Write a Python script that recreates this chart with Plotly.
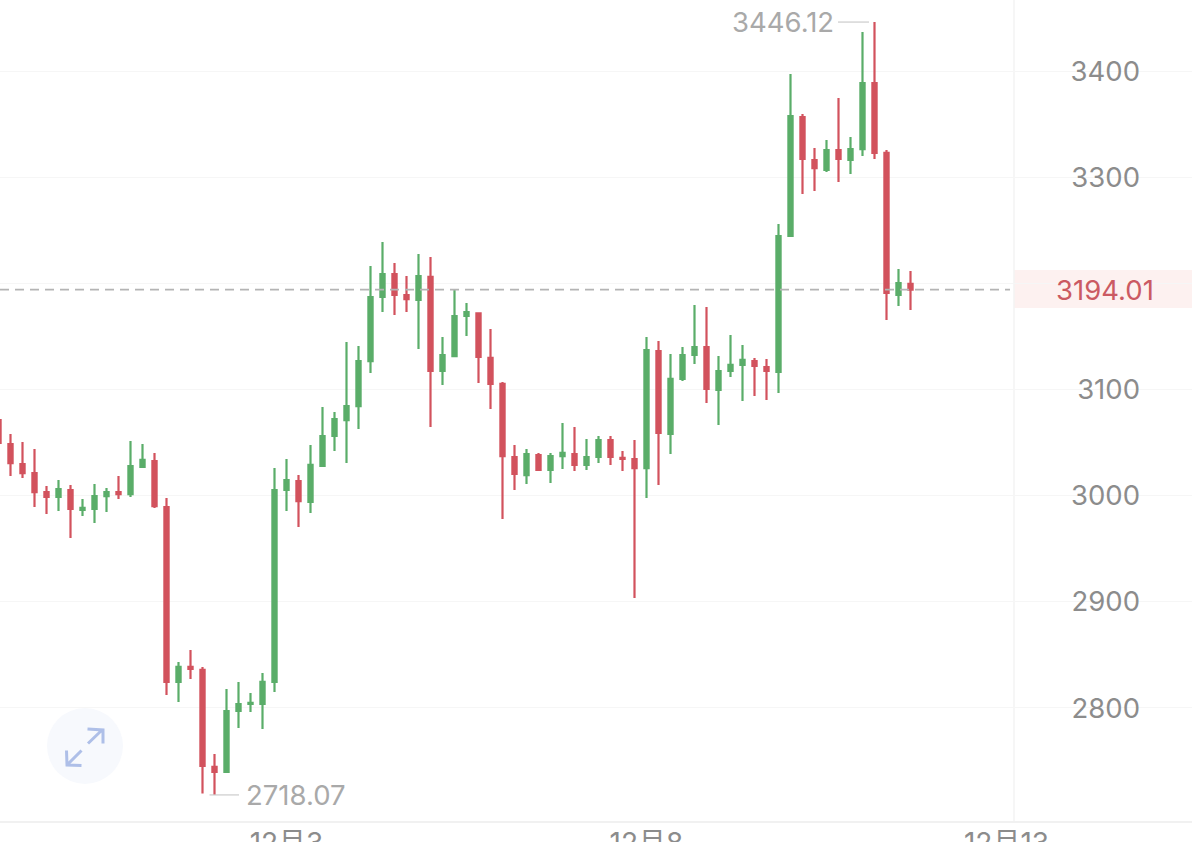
import pandas as pd
import plotly.graph_objects as go

start_time = "2025-11-29 00:00"
opens = [3071.2, 3048.6, 3029.8, 3021.3, 3003.4, 2998.7, 3005.3, 2986.5, 2987.4, 2999.6,
         3003.4, 3001.5, 3027.0, 3032.6, 2989.3, 2824.5, 2838.6, 2835.8, 2744.4, 2739.7,
         2797.1, 2803.7, 2803.7, 2824.5, 3005.3, 3013.8, 2994.0, 3027.9, 3056.2, 3071.2,
         3084.4, 3126.8, 3187.1, 3208.8, 3189.0, 3184.3, 3206.0, 3117.4, 3131.5, 3169.2,
         3171.6, 3129.7, 3105.2, 3036.4, 3019.4, 3038.3, 3024.2, 3037.3, 3039.2, 3028.9,
         3036.4, 3052.4, 3035.5, 3034.5, 3026.0, 3136.2, 3058.1, 3109.9, 3132.5, 3140.0,
         3099.5, 3117.4, 3123.1, 3126.8, 3121.2, 3116.5, 3244.6, 3356.7, 3316.2, 3306.8,
         3325.6, 3316.2, 3326.5, 3388.7, 3322.8, 3189.0, 3199.4]
highs = [3073.1, 3058.1, 3050.5, 3043.9, 3009.1, 3014.7, 3010.0, 2996.8, 3011.0, 3007.2,
         3018.5, 3051.5, 3048.6, 3040.2, 2997.8, 2843.3, 2854.6, 2838.6, 2756.6, 2817.9,
         2824.5, 2814.1, 2832.9, 3026.0, 3034.5, 3019.4, 3047.7, 3083.5, 3078.8, 3144.7,
         3141.0, 3216.3, 3238.9, 3219.2, 3206.9, 3227.6, 3224.8, 3149.4, 3193.7, 3181.5,
         3172.0, 3157.0, 3107.1, 3047.7, 3043.9, 3040.2, 3040.2, 3068.4, 3064.7, 3053.4,
         3056.2, 3056.2, 3042.1, 3052.4, 3149.4, 3145.7, 3133.4, 3140.0, 3179.6, 3177.7,
         3131.5, 3151.3, 3141.9, 3129.7, 3128.7, 3255.9, 3397.2, 3359.5, 3327.5, 3335.0,
         3374.6, 3337.8, 3436.8, 3446.12, 3325.6, 3213.5, 3211.6]
lows = [3047.7, 3018.5, 3016.6, 2989.3, 2982.7, 2985.5, 2960.1, 2980.8, 2974.2, 2984.6,
        2996.8, 2998.7, 3026.5, 2988.4, 2812.2, 2805.6, 2827.3, 2719.5, 2718.07, 2739.0,
        2781.1, 2796.2, 2780.2, 2815.0, 2985.5, 2970.4, 2983.6, 3027.5, 3042.1, 3030.7,
        3062.8, 3115.5, 3173.0, 3170.2, 3173.0, 3138.1, 3064.7, 3104.2, 3131.0, 3150.4,
        3106.1, 3081.6, 2978.0, 3005.3, 3011.0, 3023.2, 3011.9, 3025.1, 3023.2, 3024.2,
        3030.7, 3028.9, 3023.2, 2903.6, 2997.8, 3010.0, 3039.2, 3108.0, 3124.0, 3087.3,
        3066.6, 3111.8, 3089.2, 3093.9, 3090.1, 3096.7, 3244.0, 3284.1, 3287.0, 3304.9,
        3295.5, 3303.0, 3319.9, 3317.1, 3165.5, 3178.6, 3174.9]
closes = [3049.6, 3030.7, 3021.3, 3003.4, 2998.7, 3006.2, 2987.4, 2988.4, 2999.6, 3003.4,
          3001.5, 3027.9, 3033.6, 2990.2, 2824.5, 2838.6, 2836.7, 2745.3, 2739.7, 2797.1,
          2803.7, 2804.7, 2824.5, 3005.3, 3014.7, 2994.9, 3028.9, 3056.2, 3072.2, 3084.4,
          3126.8, 3187.1, 3208.8, 3189.0, 3185.2, 3206.9, 3117.4, 3132.5, 3169.2, 3173.0,
          3130.6, 3105.2, 3037.3, 3020.4, 3039.2, 3024.2, 3037.3, 3040.2, 3028.9, 3036.4,
          3052.4, 3036.4, 3034.5, 3026.0, 3137.2, 3059.0, 3109.9, 3132.5, 3140.0, 3100.5,
          3117.4, 3123.1, 3127.8, 3122.1, 3117.4, 3244.6, 3357.6, 3317.1, 3308.6, 3325.6,
          3317.1, 3326.5, 3388.7, 3322.8, 3190.9, 3200.3, 3194.01]
times = pd.date_range(start_time, periods=len(opens), freq="4h")

y_ticks = [2800, 2900, 3000, 3100, 3200, 3300, 3400]
y_labels = ["2800", "2900", "3000", "3100", "", "3300", "3400"]
x_ticks = ["2025-12-03", "2025-12-08", "2025-12-13"]
x_labels = ["12月3", "12月8", "12月13"]
last_price = 3194.01
max_price = 3446.12
min_price = 2718.07
max_time = times[highs.index(max_price)]
min_time = times[lows.index(min_price)]

GREEN = "#5aad69"
RED = "#d2525d"
FONT = "Inter"
W, H, PLOT_H = 1192, 842, 821


def px(x, y):
    return f"{x / W:.5f},{1 - y / PLOT_H:.5f}"


arrow_path = (
    f"M{px(88, 743.5)} L{px(101, 731)} "
    f"M{px(87.5, 729)} L{px(103, 730)} L{px(103, 743.5)} "
    f"M{px(81.5, 750.5)} L{px(68, 764)} "
    f"M{px(66.5, 750.5)} L{px(67, 765)} L{px(81.5, 765.5)}"
)

fig = go.Figure(go.Candlestick(
    x=times, open=opens, high=highs, low=lows, close=closes,
    increasing=dict(line=dict(color=GREEN, width=2.2), fillcolor=GREEN),
    decreasing=dict(line=dict(color=RED, width=2.2), fillcolor=RED),
    whiskerwidth=0,
))

shapes = [
    dict(type="rect", xref="paper", yref="paper", x0=1014 / W, x1=1, y0=1 - 308 / PLOT_H, y1=1 - 270 / PLOT_H,
         fillcolor="#fdf1f0", line_width=0, layer="below"),
    dict(type="line", xref="paper", yref="paper", x0=1014 / W, x1=1014 / W, y0=0, y1=1,
         line=dict(color="#f3f3f3", width=1.5), layer="below"),
    dict(type="line", xref="paper", yref="y", x0=0, x1=1010 / W, y0=last_price, y1=last_price,
         line=dict(color="#b4b4b4", width=1.8, dash="9px,6px"), layer="above"),
    dict(type="line", xref="x", yref="y", x0=max_time - pd.Timedelta(minutes=110), x1=max_time - pd.Timedelta(minutes=730),
         y0=max_price, y1=max_price, line=dict(color="#cccccc", width=1.2)),
    dict(type="line", xref="x", yref="y", x0=min_time - pd.Timedelta(minutes=100), x1=min_time + pd.Timedelta(minutes=490),
         y0=min_price, y1=min_price, line=dict(color="#cccccc", width=1.2)),
    dict(type="circle", xref="paper", yref="paper", x0=47 / W, x1=123 / W, y0=1 - 784 / PLOT_H, y1=1 - 708 / PLOT_H,
         fillcolor="#f7f9fd", line_width=0, layer="below"),
    dict(type="path", xref="paper", yref="paper", path=arrow_path,
         line=dict(color="#aebfe8", width=3), layer="above"),
]

annotations = [
    dict(x=max_time, y=max_price, xref="x", yref="y", text=f"{max_price:.2f}", showarrow=False,
         xanchor="right", xshift=-39, font=dict(family=FONT, size=27.5, color="#a9a9a9")),
    dict(x=min_time, y=min_price, xref="x", yref="y", text=f"{min_price:.2f}", showarrow=False,
         xanchor="left", xshift=29, font=dict(family=FONT, size=27.5, color="#a9a9a9")),
    dict(x=1105 / W, y=last_price, xref="paper", yref="y", text=f"{last_price:.2f}", showarrow=False,
         xanchor="center", font=dict(family=FONT, size=27.5, color="#cb5a63")),
]

fig.update_layout(
    width=W, height=H,
    margin=dict(l=0, r=0, t=0, b=H - PLOT_H, pad=0, autoexpand=False),
    paper_bgcolor="white", plot_bgcolor="white",
    showlegend=False, boxgap=0.5,
    shapes=shapes, annotations=annotations,
    xaxis=dict(
        type="date", range=["2025-11-29 00:30", "2025-12-15 13:50"], rangeslider=dict(visible=False),
        tickmode="array", tickvals=x_ticks, ticktext=x_labels, showgrid=False, zeroline=False,
        showline=True, linecolor="#f1f1f1", linewidth=1.5, ticks="", automargin=False, ticklabelstandoff=-3,
        tickfont=dict(family=f"{FONT}, Noto Sans CJK SC", size=28, color="#8c8c8c"),
    ),
    yaxis=dict(
        side="right", range=[2693.5, 3466.9], tickmode="array", tickvals=y_ticks, ticktext=y_labels,
        ticklabelposition="inside", ticklabelstandoff=49, showgrid=True, gridcolor="#f6f6f6", gridwidth=1.2,
        zeroline=False, showline=False, ticks="", automargin=False,
        tickfont=dict(family=FONT, size=27.5, color="#8c8c8c"),
    ),
)

fig.write_html("out.html", config={"displayModeBar": False},
               post_script="document.body.style.margin='0';document.body.style.overflow='hidden';")
